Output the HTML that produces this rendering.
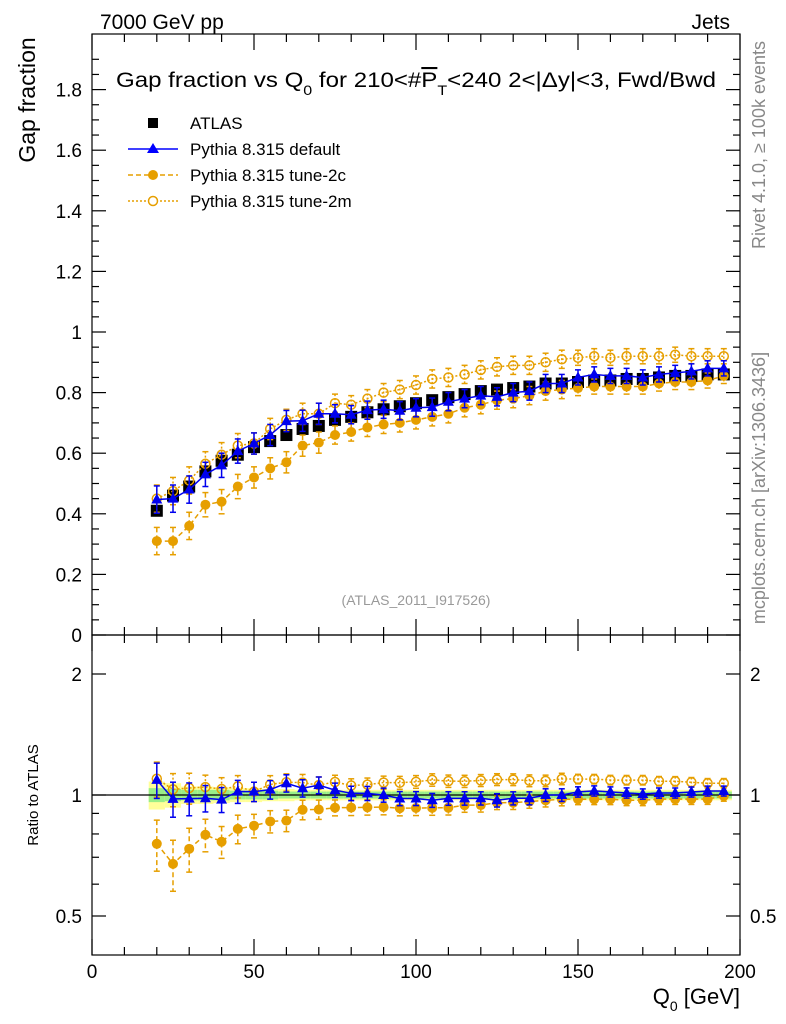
<!DOCTYPE html>
<html><head><meta charset="utf-8">
<style>
html,body{margin:0;padding:0;background:#fff;}
svg{display:block;font-family:"Liberation Sans",Arial,sans-serif;}
</style></head>
<body>
<svg id="chart" width="786" height="1024" viewBox="0 0 786 1024">
<g id="static">
<text x="100" y="29" font-size="21">7000 GeV pp</text>
<text x="730" y="29" font-size="21" text-anchor="end">Jets</text>
<text x="116" y="87" font-size="21" textLength="600" lengthAdjust="spacingAndGlyphs">Gap fraction vs Q<tspan font-size="14" dy="8">0</tspan><tspan dy="-8"> for 210&lt;#</tspan><tspan text-decoration="overline">P</tspan><tspan font-size="14" dy="8">T</tspan><tspan dy="-8">&lt;240  2&lt;|Δy|&lt;3, Fwd/Bwd</tspan></text>
<text transform="translate(35,100) rotate(-90)" font-size="23" text-anchor="middle">Gap fraction</text>
<text transform="translate(38,795) rotate(-90)" font-size="15" text-anchor="middle">Ratio to ATLAS</text>
<text transform="translate(765,145) rotate(-90)" font-size="18" fill="#888" text-anchor="middle">Rivet 4.1.0, ≥ 100k events</text>
<text transform="translate(765,488) rotate(-90)" font-size="18" fill="#888" text-anchor="middle">mcplots.cern.ch [arXiv:1306.3436]</text>
<text x="416" y="605" font-size="14" fill="#999" text-anchor="middle">(ATLAS_2011_I917526)</text>
<text x="740" y="1004" font-size="22" text-anchor="end">Q<tspan font-size="14" dy="7">0</tspan><tspan dy="-7"> [GeV]</tspan></text>
</g>
<g id="legend">
<g><rect x="148" y="118" width="10" height="10" fill="#000"/><text x="190" y="129" font-size="17">ATLAS</text></g>
<g><line x1="128" y1="149" x2="178" y2="149" stroke="#00f" stroke-width="1.5"/><polygon points="153,143 159,153 147,153" fill="#00f"/><text x="190" y="155" font-size="17">Pythia 8.315 default</text></g>
<g><line x1="128" y1="175" x2="178" y2="175" stroke="#e69f00" stroke-width="1.5" stroke-dasharray="5,3"/><circle cx="153" cy="175" r="5" fill="#e69f00"/><text x="190" y="181" font-size="17">Pythia 8.315 tune-2c</text></g>
<g><line x1="128" y1="201" x2="178" y2="201" stroke="#e69f00" stroke-width="1.5" stroke-dasharray="2,2"/><circle cx="153" cy="201" r="4.5" fill="#fff" stroke="#e69f00" stroke-width="1.5"/><text x="190" y="207" font-size="17">Pythia 8.315 tune-2m</text></g>
</g>
<g id="dyn"></g>
</svg>
<script>
const q0 = [20,25,30,35,40,45,50,55,60,65,70,75,80,85,90,95,100,105,110,115,120,125,130,135,140,145,150,155,160,165,170,175,180,185,190,195];
const atlas = [0.41,0.46,0.49,0.54,0.575,0.595,0.62,0.64,0.66,0.68,0.69,0.71,0.72,0.735,0.745,0.755,0.765,0.775,0.785,0.795,0.805,0.81,0.815,0.82,0.83,0.83,0.835,0.84,0.84,0.845,0.845,0.85,0.855,0.855,0.86,0.86];
const atlasStatRel = [0.04,0.035,0.03,0.03,0.03,0.025,0.025,0.025,0.02,0.02,0.02,0.02,0.02,0.02,0.02,0.02,0.02,0.02,0.02,0.02,0.02,0.02,0.02,0.02,0.02,0.02,0.02,0.02,0.02,0.02,0.02,0.02,0.02,0.02,0.02,0.02];
const atlasTotRel = [0.08,0.07,0.05,0.05,0.045,0.04,0.04,0.035,0.035,0.03,0.03,0.03,0.03,0.03,0.03,0.03,0.03,0.03,0.03,0.03,0.03,0.03,0.03,0.03,0.03,0.03,0.03,0.03,0.03,0.03,0.03,0.03,0.03,0.03,0.03,0.03];
const pyDefault = [0.447,0.45,0.48,0.53,0.56,0.607,0.632,0.66,0.706,0.707,0.73,0.73,0.727,0.742,0.745,0.74,0.75,0.752,0.77,0.78,0.79,0.786,0.80,0.805,0.83,0.83,0.85,0.86,0.855,0.855,0.85,0.86,0.865,0.87,0.88,0.88];
const pyTune2c = [0.31,0.31,0.36,0.43,0.44,0.49,0.52,0.55,0.57,0.625,0.635,0.66,0.67,0.685,0.695,0.70,0.71,0.72,0.73,0.75,0.76,0.775,0.78,0.79,0.805,0.81,0.815,0.82,0.82,0.82,0.82,0.83,0.835,0.835,0.84,0.855];
const pyTune2m = [0.45,0.475,0.51,0.565,0.595,0.625,0.632,0.68,0.71,0.73,0.73,0.765,0.76,0.78,0.80,0.81,0.825,0.845,0.85,0.86,0.875,0.885,0.89,0.89,0.90,0.91,0.915,0.92,0.915,0.92,0.92,0.92,0.925,0.92,0.92,0.92];
const mcErr = [0.045,0.045,0.045,0.04,0.04,0.04,0.035,0.035,0.035,0.035,0.035,0.03,0.03,0.03,0.03,0.03,0.03,0.03,0.03,0.03,0.03,0.03,0.03,0.03,0.03,0.03,0.025,0.025,0.025,0.025,0.025,0.025,0.025,0.025,0.025,0.025];
const mainYTicks = [0,0.2,0.4,0.6,0.8,1,1.2,1.4,1.6,1.8];
const mainYLabels = ["0","0.2","0.4","0.6","0.8","1","1.2","1.4","1.6","1.8"];
const xTicks = [0,50,100,150,200];
const ratioTicks = [0.5,1,2];
const ratioLabels = ["0.5","1","2"];

const NS="http://www.w3.org/2000/svg";
const g=document.getElementById('dyn');
const L=92,R=740,T=34,MB=635,RB=955;
const xS=v=>L+(v-0)/(200-0)*(R-L);
const yS=v=>MB-v*303;
const rS=v=>795-121*Math.log2(v);
function mk(tag,attrs,parent){const e=document.createElementNS(NS,tag);for(const k in attrs)e.setAttribute(k,attrs[k]);(parent||g).appendChild(e);return e;}

const band=mk('g',{});


q0.forEach((q,i)=>{
  const x0=xS(q-2.5),w=xS(q+2.5)-x0;
  mk('rect',{x:x0,y:rS(1+atlasTotRel[i]),width:w,height:rS(1-atlasTotRel[i])-rS(1+atlasTotRel[i]),fill:'#ffff99'},band);
  mk('rect',{x:x0,y:rS(1+atlasStatRel[i]),width:w,height:rS(1-atlasStatRel[i])-rS(1+atlasStatRel[i]),fill:'#99ee88'},band);
});
const one=mk('line',{x1:L,x2:R,y1:rS(1),y2:rS(1),stroke:'#000','stroke-width':1.2});



const f1=mk('rect',{x:L,y:T,width:R-L,height:MB-T,fill:'none',stroke:'#000','stroke-width':1.2});


const f2=mk('rect',{x:L,y:MB,width:R-L,height:RB-MB,fill:'none',stroke:'#000','stroke-width':1.2});



const tk=mk('g',{stroke:'#000','stroke-width':1.2});


for(let v=0;v<=1.95;v+=0.05){const y=yS(v);const major=Math.abs(v*5-Math.round(v*5))<1e-6;const l=major?14:7;mk('line',{x1:L,x2:L+l,y1:y,y2:y},tk);mk('line',{x1:R,x2:R-l,y1:y,y2:y},tk);}
for(let v=0;v<=200;v+=10){const x=xS(v);const major=v%50===0;const l=major?16:8;
 mk('line',{x1:x,x2:x,y1:T,y2:T+l},tk);mk('line',{x1:x,x2:x,y1:MB,y2:MB-l},tk);
 mk('line',{x1:x,x2:x,y1:MB,y2:MB+l},tk);mk('line',{x1:x,x2:x,y1:RB,y2:RB-l},tk);}
[0.5,0.6,0.7,0.8,0.9,1,2].forEach(v=>{const y=rS(v);const major=ratioTicks.includes(v);const l=major?14:7;mk('line',{x1:L,x2:L+l,y1:y,y2:y},tk);mk('line',{x1:R,x2:R-l,y1:y,y2:y},tk);});

mainYTicks.forEach((v,i)=>{const t=mk('text',{x:82,y:yS(v)+7,'font-size':19,'text-anchor':'end'});t.textContent=mainYLabels[i];

});
ratioTicks.forEach((v,i)=>{
 const t=mk('text',{x:82,y:rS(v)+7,'font-size':19,'text-anchor':'end'});t.textContent=ratioLabels[i];
 
 
 const t2=mk('text',{x:750,y:rS(v)+7,'font-size':19});t2.textContent=ratioLabels[i];
 
 });
xTicks.forEach(v=>{const t=mk('text',{x:xS(v),y:978,'font-size':19,'text-anchor':'middle'});t.textContent=String(v);

});

function series(vals,name,color,dash,marker,ratioMode){
 const sg=mk('g',{});
 
 
 const ys=ratioMode?(v=>rS(v)):yS;
 const data=ratioMode?vals.map((v,i)=>v/atlas[i]):vals;
 const err=ratioMode?mcErr.map((e,i)=>e/atlas[i]):mcErr;
 const pts=q0.map((q,i)=>xS(q)+','+ys(data[i])).join(' ');
 mk('polyline',{points:pts,fill:'none',stroke:color,'stroke-width':1.5,'stroke-dasharray':dash},sg);
 q0.forEach((q,i)=>{const x=xS(q),y=ys(data[i]);
  const y1=ys(data[i]+err[i]),y2=ys(Math.max(data[i]-err[i],0.01));
  mk('line',{x1:x,x2:x,y1:y1,y2:y2,stroke:color,'stroke-width':1.5,'stroke-dasharray':dash},sg);
  mk('line',{x1:x-3,x2:x+3,y1:y1,y2:y1,stroke:color,'stroke-width':1.5},sg);
  mk('line',{x1:x-3,x2:x+3,y1:y2,y2:y2,stroke:color,'stroke-width':1.5},sg);
  let m;
  if(marker==='tri')m=mk('polygon',{points:`${x},${y-6} ${x+5.5},${y+4} ${x-5.5},${y+4}`,fill:color},sg);
  else if(marker==='dot')m=mk('circle',{cx:x,cy:y,r:5,fill:color},sg);
  else m=mk('circle',{cx:x,cy:y,r:4.5,fill:'none',stroke:color,'stroke-width':1.5},sg);
  
  
 });
}
const ag=mk('g',{});


q0.forEach((q,i)=>{const x=xS(q),y=yS(atlas[i]);
 const s=mk('rect',{x:x-6,y:y-6,width:12,height:12,fill:'#000'},ag);
 
 });

series(pyTune2c,'tune-2c-series','#e69f00','5,3','dot',false);
series(pyTune2m,'tune-2m-series','#e69f00','2,2','ring',false);
series(pyDefault,'default-series','#0000ee','','tri',false);
series(pyTune2c,'tune-2c-ratio','#e69f00','5,3','dot',true);
series(pyTune2m,'tune-2m-ratio','#e69f00','2,2','ring',true);
series(pyDefault,'default-ratio','#0000ee','','tri',true);
</script>
</body></html>
